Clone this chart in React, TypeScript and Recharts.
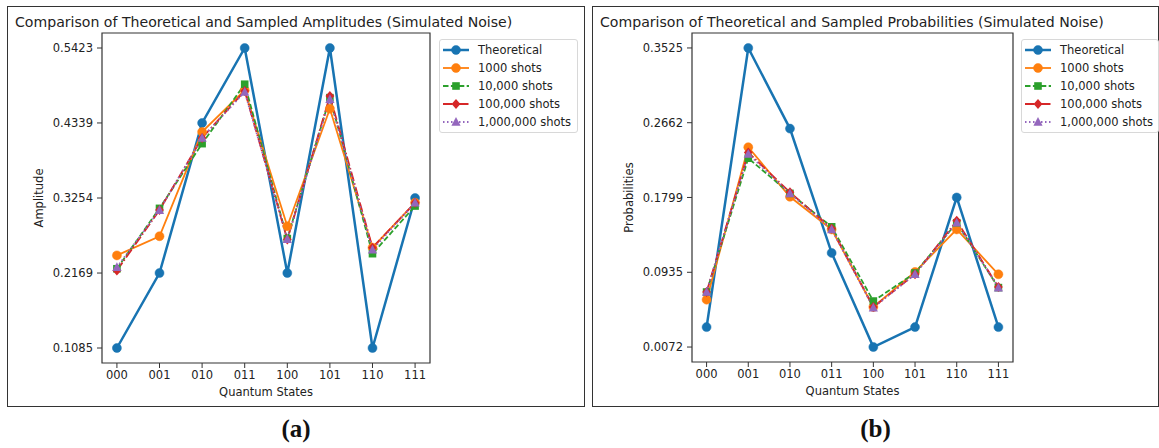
import React from 'react';
import { LineChart, Line, XAxis, YAxis, ReferenceArea } from 'recharts';

const STATES = ['000', '001', '010', '011', '100', '101', '110', '111'];

const AMP_TICKS = [0.1085, 0.2169, 0.3254, 0.4339, 0.5423];
const AMP_THEORETICAL = [0.1085, 0.2169, 0.4339, 0.5423, 0.2169, 0.5423, 0.1085, 0.3254];
const AMP_1K = [0.2424, 0.2701, 0.4210, 0.4812, 0.2846, 0.4545, 0.2536, 0.3186];
const AMP_10K = [0.2231, 0.3104, 0.4040, 0.4899, 0.2667, 0.4705, 0.2449, 0.3138];
const AMP_100K = [0.2206, 0.3079, 0.4123, 0.4802, 0.2653, 0.4729, 0.2536, 0.3186];
const AMP_1M = [0.2254, 0.3079, 0.4123, 0.4787, 0.2660, 0.4681, 0.2507, 0.3186];

const PROB_TICKS = [0.0072, 0.0935, 0.1799, 0.2662, 0.3525];
const PROB_THEORETICAL = [0.0302, 0.3525, 0.2594, 0.1159, 0.0072, 0.0302, 0.1799, 0.0302];
const PROB_1K = [0.0619, 0.2379, 0.1807, 0.1430, 0.0534, 0.0939, 0.1430, 0.0912];
const PROB_10K = [0.0707, 0.2252, 0.1846, 0.1460, 0.0603, 0.0927, 0.1507, 0.0758];
const PROB_100K = [0.0707, 0.2317, 0.1858, 0.1441, 0.0534, 0.0912, 0.1529, 0.0765];
const PROB_1M = [0.0707, 0.2301, 0.1846, 0.1430, 0.0526, 0.0912, 0.1507, 0.0758];

const SERIES_NAMES = ['Theoretical', '1000 shots', '10,000 shots', '100,000 shots', '1,000,000 shots'];
const SERIES_KEYS = ['theo', 's1k', 's10k', 's100k', 's1m'];
const SERIES_COLORS = ['#1874b2', '#ff7f0e', '#2ca02c', '#d62728', '#9467bd'];
const SERIES_WIDTHS = [2.5, 1.8, 1.8, 1.8, 1.8];
const SERIES_DASH = [undefined, undefined, '5.5 2.4', '9.6 2.4 1.5 2.4', '1.5 2.5'];
const SERIES_MARKERS = ['circle', 'circle', 'square', 'diamond', 'triangle'];

const FONT = '"DejaVu Sans", Verdana, sans-serif';
const TEXT_COLOR = '#222';

function markerShape(shape: string, cx: number, cy: number, color: string, key?: any) {
  if (shape === 'circle') return <circle key={key} cx={cx} cy={cy} r={4.5} fill={color} stroke={color} strokeWidth={0.5} />;
  if (shape === 'square') return <rect key={key} x={cx - 3.8} y={cy - 3.8} width={7.6} height={7.6} fill={color} />;
  if (shape === 'diamond')
    return <polygon key={key} points={`${cx},${cy - 5} ${cx + 4.4},${cy} ${cx},${cy + 5} ${cx - 4.4},${cy}`} fill={color} />;
  return <polygon key={key} points={`${cx},${cy - 5} ${cx + 4.6},${cy + 3.8} ${cx - 4.6},${cy + 3.8}`} fill={color} />;
}

function makeDot(shape: string, color: string) {
  return (props: any) => {
    const { cx, cy, index } = props;
    if (cx == null || cy == null) return <g key={`d${index}`} />;
    return markerShape(shape, cx, cy, color, `d${index}`);
  };
}

function buildRows(series: number[][]) {
  return STATES.map((s, i) => {
    const row: any = { idx: i, state: s };
    SERIES_KEYS.forEach((k, j) => {
      row[k] = series[j][i];
    });
    return row;
  });
}

const X_DOMAIN: [number, number] = [-0.35, STATES.length - 1 + 0.35];

function yDomainFrom(ticks: number[]): [number, number] {
  const lo = ticks[0];
  const hi = ticks[ticks.length - 1];
  const m = (hi - lo) * 0.05;
  return [lo - m, hi + m];
}

function LegendBox({ left, top, width }: { left: number; top: number; width: number }) {
  return (
    <div
      style={{
        position: 'absolute',
        left,
        top,
        width,
        height: 94,
        boxSizing: 'border-box',
        border: '1px solid #d8d8d8',
        borderRadius: 3,
        background: 'rgba(255,255,255,0.9)',
        paddingTop: 1,
        fontFamily: FONT,
        fontSize: 11.5,
        color: TEXT_COLOR,
      }}
    >
      {SERIES_NAMES.map((name, i) => (
        <div key={name} style={{ height: 18, display: 'flex', alignItems: 'center' }}>
          <svg width={26} height={18} style={{ marginLeft: 3, flex: 'none' }}>
            <line
              x1={0}
              y1={9}
              x2={26}
              y2={9}
              stroke={SERIES_COLORS[i]}
              strokeWidth={SERIES_WIDTHS[i]}
              strokeDasharray={SERIES_DASH[i]}
            />
            {markerShape(SERIES_MARKERS[i], 13, 9, SERIES_COLORS[i])}
          </svg>
          <span style={{ marginLeft: 9, whiteSpace: 'nowrap' }}>{name}</span>
        </div>
      ))}
    </div>
  );
}

type PanelProps = {
  left: number;
  width: number;
  marginRight: number;
  marginBottom: number;
  title: string;
  yLabel: string;
  ticks: number[];
  series: number[][];
  frameLeft: number;
  frameWidth: number;
  legendLeft: number;
  legendWidth: number;
  caption: string;
};

function Panel(p: PanelProps) {
  const data = buildRows(p.series);
  const yDomain = yDomainFrom(p.ticks);
  return (
    <>
      <div
        style={{
          position: 'absolute',
          left: p.frameLeft,
          top: 6,
          width: p.frameWidth,
          height: 401,
          boxSizing: 'border-box',
          border: '1.3px solid #333',
        }}
      />
      <div
        style={{
          position: 'absolute',
          left: p.frameLeft + 8,
          top: 12,
          fontFamily: FONT,
          fontSize: 14.1,
          color: TEXT_COLOR,
          whiteSpace: 'nowrap',
          lineHeight: '20px',
        }}
      >
        {p.title}
      </div>
      <div style={{ position: 'absolute', left: p.left, top: 0 }}>
        <LineChart
          width={p.width}
          height={448}
          data={data}
          margin={{ top: 33, right: p.marginRight, bottom: p.marginBottom, left: 42 }}
        >
          <XAxis
            type="number"
            dataKey="idx"
            domain={X_DOMAIN}
            ticks={STATES.map((_, i) => i)}
            interval={0}
            tickFormatter={(v: number) => STATES[v] ?? ''}
            axisLine={false}
            tickLine={{ stroke: '#333' }}
            tickSize={5}
            tickMargin={3}
            height={30}
            allowDataOverflow
            tick={{ fontSize: 11.5, fill: TEXT_COLOR, fontFamily: FONT }}
            label={{ value: 'Quantum States', position: 'bottom', offset: -5, fontSize: 11.5, fill: TEXT_COLOR, fontFamily: FONT }}
          />
          <YAxis
            type="number"
            domain={yDomain}
            ticks={p.ticks}
            interval={0}
            tickFormatter={(v: number) => v.toFixed(4)}
            axisLine={false}
            tickLine={{ stroke: '#333' }}
            tickSize={5}
            tickMargin={4}
            width={60}
            allowDataOverflow
            tick={{ fontSize: 11.5, fill: TEXT_COLOR, fontFamily: FONT }}
            label={{
              value: p.yLabel,
              position: 'left',
              angle: -90,
              offset: 3,
              fontSize: 11.5,
              fill: TEXT_COLOR,
              fontFamily: FONT,
              style: { textAnchor: 'middle' },
            }}
          />
          <ReferenceArea
            x1={X_DOMAIN[0]}
            x2={X_DOMAIN[1]}
            y1={yDomain[0]}
            y2={yDomain[1]}
            fill="none"
            fillOpacity={0}
            stroke="#333"
            strokeWidth={1.2}
            ifOverflow="visible"
          />
          {SERIES_KEYS.map((k, i) => (
            <Line
              key={k}
              type="linear"
              dataKey={k}
              name={SERIES_NAMES[i]}
              stroke={SERIES_COLORS[i]}
              strokeWidth={SERIES_WIDTHS[i]}
              strokeDasharray={SERIES_DASH[i]}
              dot={makeDot(SERIES_MARKERS[i], SERIES_COLORS[i])}
              activeDot={false}
              isAnimationActive={false}
            />
          ))}
        </LineChart>
      </div>
      <LegendBox left={p.legendLeft} top={39} width={p.legendWidth} />
      <div
        style={{
          position: 'absolute',
          left: p.frameLeft,
          width: p.frameWidth,
          top: 414,
          textAlign: 'center',
          fontFamily: '"Liberation Serif", "Times New Roman", serif',
          fontWeight: 'bold',
          fontSize: 25,
          lineHeight: '30px',
          color: '#111',
        }}
      >
        {p.caption}
      </div>
    </>
  );
}

export default function App() {
  return (
    <div style={{ position: 'absolute', left: 0, top: 0, width: 1159, height: 448, background: '#fff', overflow: 'hidden' }}>
      <Panel
        left={0}
        width={590}
        marginRight={160}
        marginBottom={55}
        title="Comparison of Theoretical and Sampled Amplitudes (Simulated Noise)"
        yLabel="Amplitude"
        ticks={AMP_TICKS}
        series={[AMP_THEORETICAL, AMP_1K, AMP_10K, AMP_100K, AMP_1M]}
        frameLeft={7}
        frameWidth={578}
        legendLeft={439}
        legendWidth={139}
        caption="(a)"
      />
      <Panel
        left={590}
        width={569}
        marginRight={146}
        marginBottom={56}
        title="Comparison of Theoretical and Sampled Probabilities (Simulated Noise)"
        yLabel="Probabilities"
        ticks={PROB_TICKS}
        series={[PROB_THEORETICAL, PROB_1K, PROB_10K, PROB_100K, PROB_1M]}
        frameLeft={592}
        frameWidth={567}
        legendLeft={1021}
        legendWidth={138}
        caption="(b)"
      />
    </div>
  );
}
